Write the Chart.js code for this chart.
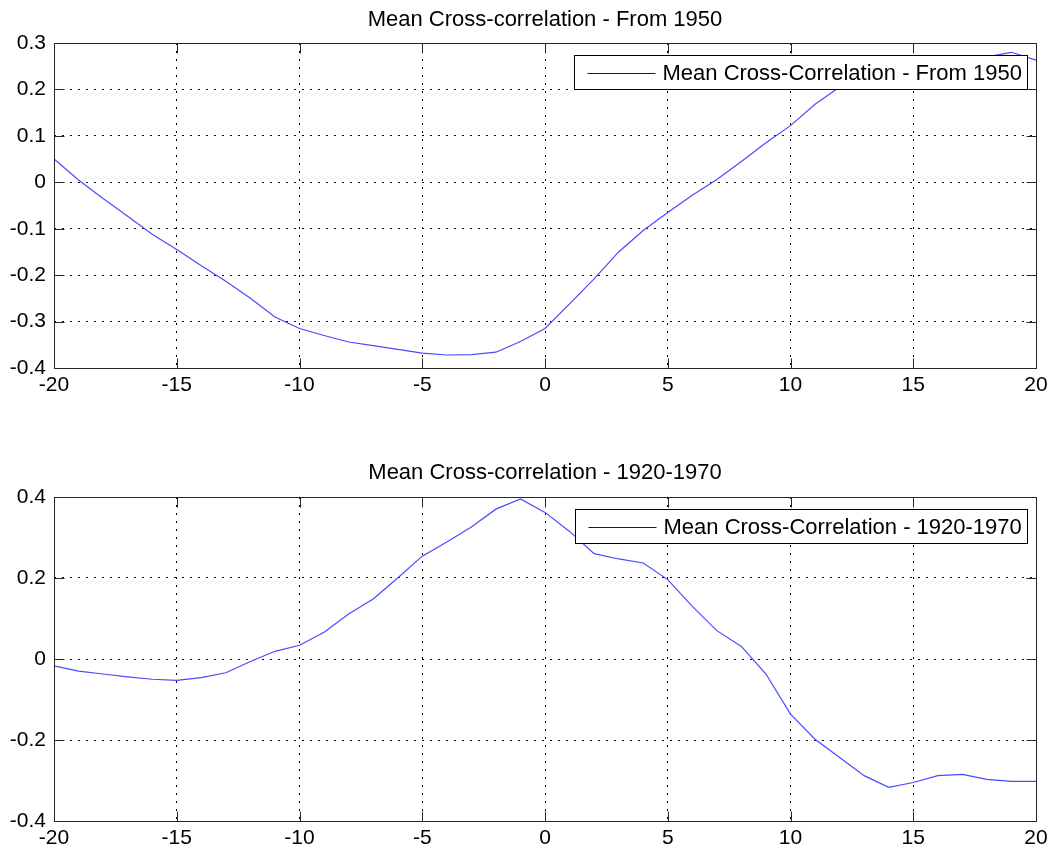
<!DOCTYPE html>
<html lang="en">
<head>
<meta charset="utf-8">
<title>Mean Cross-correlation</title>
<script src="https://cdn.jsdelivr.net/npm/chart.js@4.4.1/dist/chart.umd.min.js"></script>
<style>
  html, body { margin: 0; padding: 0; background: #fff; }
  canvas { display: block; }
</style>
</head>
<body>
<canvas id="chartFrom1950" width="1054" height="430"></canvas>
<canvas id="chart1920" width="1054" height="425"></canvas>
<script>
// lags in years
var lags = [-20, -19, -18, -17, -16, -15, -14, -13, -12, -11, -10,
            -9, -8, -7, -6, -5, -4, -3, -2, -1, 0,
            1, 2, 3, 4, 5, 6, 7, 8, 9, 10,
            11, 12, 13, 14, 15, 16, 17, 18, 19, 20];

var corrFrom1950 = [0.050, 0.005, -0.035, -0.073, -0.112, -0.145, -0.180, -0.213, -0.250, -0.290, -0.315,
                    -0.330, -0.344, -0.352, -0.360, -0.368, -0.372, -0.371, -0.366, -0.343, -0.315,
                    -0.262, -0.208, -0.150, -0.104, -0.065, -0.028, 0.006, 0.045, 0.085, 0.122,
                    0.168, 0.205, 0.228, 0.244, 0.255, 0.262, 0.267, 0.270, 0.280, 0.263];

var corr1920to1970 = [-0.017, -0.030, -0.037, -0.044, -0.050, -0.053, -0.046, -0.034, -0.006, 0.019, 0.034,
                      0.066, 0.111, 0.148, 0.200, 0.254, 0.289, 0.326, 0.370, 0.395, 0.362,
                      0.315, 0.260, 0.247, 0.237, 0.196, 0.130, 0.070, 0.031, -0.037, -0.136,
                      -0.198, -0.243, -0.288, -0.317, -0.305, -0.288, -0.285, -0.297, -0.302, -0.302];

var lagTicks = [-20, -15, -10, -5, 0, 5, 10, 15, 20];
var ticksFrom1950 = [-0.4, -0.3, -0.2, -0.1, 0, 0.1, 0.2, 0.3];
var ticks1920 = [-0.4, -0.2, 0, 0.2, 0.4];

var FONT = '"Liberation Sans", Arial, Helvetica, sans-serif';

// axes box, inward tick marks on all four sides and the boxed legend
var matlabAxes = {
  id: 'matlabAxes',
  afterDatasetsDraw: function (chart) {
    var ctx = chart.ctx, a = chart.chartArea;
    var xs = chart.scales.x, ys = chart.scales.y;
    var L = Math.floor(a.left) + 0.5, R = Math.floor(a.right) + 0.5;
    var T = Math.floor(a.top) + 0.5, B = Math.floor(a.bottom) + 0.5;
    var tick = 10;

    ctx.save();
    ctx.setLineDash([]);
    ctx.lineWidth = 1;
    ctx.strokeStyle = '#262626';
    ctx.beginPath();
    xs.ticks.forEach(function (t) {
      var px = Math.round(xs.getPixelForValue(t.value)) + 0.5;
      ctx.moveTo(px, B); ctx.lineTo(px, B - tick);
      ctx.moveTo(px, T); ctx.lineTo(px, T + tick);
    });
    ys.ticks.forEach(function (t) {
      var py = Math.round(ys.getPixelForValue(t.value)) + 0.5;
      ctx.moveTo(L, py); ctx.lineTo(L + tick, py);
      ctx.moveTo(R, py); ctx.lineTo(R - tick, py);
    });
    ctx.stroke();
    ctx.strokeRect(L, T, R - L, B - T);

    // legend
    var ds = chart.data.datasets[0];
    ctx.font = '22px ' + FONT;
    var tw = ctx.measureText(ds.label).width;
    var boxH = 34;
    var boxW = Math.round(13 + 68 + 7 + tw + 6);
    var boxR = R - 9, boxT = T + 12;
    var boxL = boxR - boxW;
    ctx.fillStyle = '#fff';
    ctx.fillRect(boxL, boxT, boxW, boxH);
    ctx.strokeStyle = '#000';
    ctx.strokeRect(boxL, boxT, boxW, boxH);
    var ly = Math.round(boxT + boxH / 2) + 0.5;
    ctx.strokeStyle = '#0000ff';
    ctx.beginPath();
    ctx.moveTo(boxL + 13, ly);
    ctx.lineTo(boxL + 81, ly);
    ctx.stroke();
    ctx.fillStyle = '#000';
    ctx.textBaseline = 'middle';
    ctx.textAlign = 'left';
    ctx.fillText(ds.label, boxL + 88, boxT + boxH / 2 + 1);
    ctx.restore();
  }
};

function makeChart(id, title, label, values, yTicks, titlePad, xAxisHeight) {
  var points = lags.map(function (lag, i) { return { x: lag, y: values[i] }; });
  var gridOpts = { color: '#000', lineWidth: 1, drawTicks: false, borderDash: [2, 6] };
  var borderOpts = { display: false, dash: [2, 6] };
  var tickFont = { family: FONT, size: 21 };

  return new Chart(document.getElementById(id), {
    type: 'line',
    data: {
      datasets: [{
        label: label,
        data: points,
        borderColor: '#4a4aff',
        borderWidth: 1.2,
        pointRadius: 0,
        tension: 0,
        fill: false
      }]
    },
    options: {
      responsive: false,
      animation: false,
      events: [],
      layout: { padding: { left: 0, right: 18, top: 0, bottom: 0 } },
      plugins: {
        legend: { display: false },
        tooltip: { enabled: false },
        title: {
          display: true,
          fullSize: false,
          text: title,
          color: '#000',
          font: { family: FONT, size: 22, weight: 'normal' },
          padding: titlePad
        }
      },
      scales: {
        x: {
          type: 'linear',
          min: lagTicks[0],
          max: lagTicks[lagTicks.length - 1],
          afterBuildTicks: function (s) { s.ticks = lagTicks.map(function (v) { return { value: v }; }); },
          afterFit: function (s) { s.height = xAxisHeight; },
          ticks: { color: '#000', font: tickFont, padding: 5, maxRotation: 0, autoSkip: false,
                   callback: function (v) { return String(v); } },
          grid: gridOpts,
          border: borderOpts
        },
        y: {
          type: 'linear',
          min: yTicks[0],
          max: yTicks[yTicks.length - 1],
          afterBuildTicks: function (s) { s.ticks = yTicks.map(function (v) { return { value: v }; }); },
          afterFit: function (s) { s.width = 54; },
          ticks: { color: '#000', font: tickFont, padding: 8, autoSkip: false,
                   callback: function (v) { return String(v); } },
          grid: gridOpts,
          border: borderOpts
        }
      }
    },
    plugins: [matlabAxes]
  });
}

makeChart('chartFrom1950', 'Mean Cross-correlation - From 1950', 'Mean Cross-Correlation - From 1950',
          corrFrom1950, ticksFrom1950, { top: 6.4, bottom: 10.2 }, 62);
makeChart('chart1920', 'Mean Cross-correlation - 1920-1970', 'Mean Cross-Correlation - 1920-1970',
          corr1920to1970, ticks1920, { top: 29.8, bottom: 10.8 }, 34);
</script>
</body>
</html>
